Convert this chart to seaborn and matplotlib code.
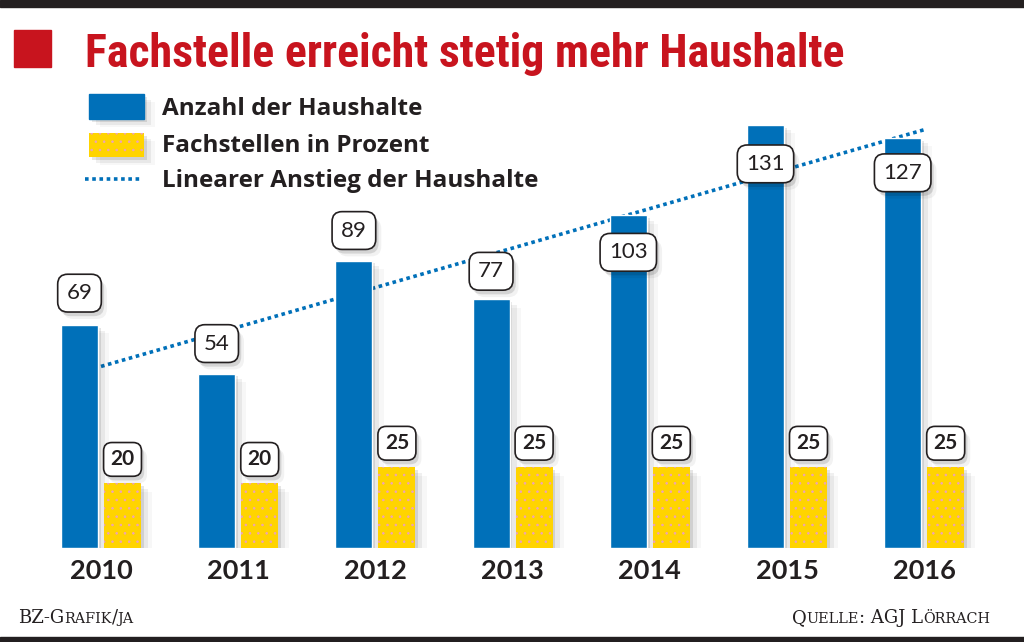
import numpy as np
import pandas as pd
import seaborn as sns
import matplotlib.pyplot as plt
from matplotlib import patheffects as pe
from matplotlib import font_manager
from matplotlib.patches import Rectangle
from matplotlib.lines import Line2D

# Data
years = ['2010', '2011', '2012', '2013', '2014', '2015', '2016']
households = [69, 54, 89, 77, 103, 131, 127]
percent = [20, 20, 25, 25, 25, 25, 25]
series_names = ['Anzahl der Haushalte', 'Fachstellen in Prozent']
trend_name = 'Linearer Anstieg der Haushalte'
title = 'Fachstelle erreicht stetig mehr Haushalte'
credit = 'BZ-Grafik/ja'
source = 'Quelle: AGJ Lörrach'

# label offsets above/below the blue bar tops (pixels), as placed in the original
blue_label_dy = [32, 30, 30, 28, -37, -39, -35]

BLUE = '#0070b9'
YELLOW = '#ffd400'
RED = '#c8141e'
DARK = '#231f20'
DOTS = '#eea3b8'
W, H = 1024, 642

df = pd.DataFrame({
    'year': years * 2,
    'value': households + percent,
    'series': [series_names[0]] * len(years) + [series_names[1]] * len(years),
})

sns.set_theme(style='white')
plt.rcParams['font.family'] = ['Lato', 'DejaVu Sans']
plt.rcParams['hatch.linewidth'] = 0.6

installed = {f.name for f in font_manager.fontManager.ttflist}
title_font = next((f for f in ['Liberation Sans Narrow', 'Roboto Condensed', 'DejaVu Sans']
                   if f in installed), 'DejaVu Sans')
legend_font = 'Open Sans' if 'Open Sans' in installed else 'Lato'


class PlainShadow(pe.AbstractPathEffect):
    # soft offset shadow without the hatch of the patch
    def __init__(self, offset=(2, -2), alpha=0.1):
        super().__init__(offset)
        self.alpha = alpha

    def draw_path(self, renderer, gc, tpath, affine, rgbFace=None):
        gc0 = renderer.new_gc()
        gc0.copy_properties(gc)
        gc0.set_hatch(None)
        gc0.set_linewidth(0)
        gc0.set_alpha(self.alpha)
        renderer.draw_path(gc0, tpath, affine + self._offset_transform(renderer), (0, 0, 0))
        gc0.restore()


shadow = [PlainShadow((2, -2), 0.10), PlainShadow((5, -4), 0.06),
          PlainShadow((8, -6), 0.03), pe.Normal()]

fig = plt.figure(figsize=(W / 100, H / 100), dpi=100)
fig.patch.set_facecolor('white')

# axes placed so that baseline sits at y=548px, 3.23 px per unit
ax = fig.add_axes([18.7 / W, (H - 548) / H, 987.8 / W, 140 * 3.23 / H])

sns.barplot(data=df, x='year', y='value', hue='series', palette=[BLUE, YELLOW],
            width=0.627, gap=0.14, saturation=1, errorbar=None, legend=False,
            ax=ax, zorder=3)
ax.set_xlim(-0.6, 6.6)
ax.set_ylim(0, 140)

blue_bars = ax.containers[0]
yellow_bars = ax.containers[1]
for bar in blue_bars:
    bar.set_path_effects(shadow)
for bar in yellow_bars:
    bar.set_hatch('..')
    bar.set_edgecolor(DOTS)
    bar.set_linewidth(0)
    bar.set_path_effects(shadow)

# linear trend of households
xs = np.arange(len(years))
coef = np.polyfit(xs, households, 1)
ends = np.array([xs[0], xs[-1]])
ax.plot(ends, np.polyval(coef, ends), color=BLUE, lw=2.6, linestyle=(0, (1, 1)),
        dash_capstyle='butt', zorder=2)

box_shadow = [PlainShadow((2, -3), 0.12), PlainShadow((4, -5), 0.05), pe.Normal()]

for bar, v, dy in zip(blue_bars, households, blue_label_dy):
    cx = bar.get_x() + bar.get_width() / 2
    t = ax.annotate(str(v), (cx, v), xytext=(0, dy), textcoords='offset pixels',
                    ha='center', va='center', fontsize=16, color=DARK, zorder=6,
                    bbox=dict(boxstyle='round,pad=0.4,rounding_size=0.45',
                              fc='white', ec=DARK, lw=1.2))
    t.get_bbox_patch().set_path_effects(box_shadow)

for bar, v in zip(yellow_bars, percent):
    cx = bar.get_x() + bar.get_width() / 2
    t = ax.annotate(str(v), (cx, v), xytext=(0, 24), textcoords='offset pixels',
                    ha='center', va='center', fontsize=15, fontweight='bold',
                    color=DARK, zorder=6,
                    bbox=dict(boxstyle='round,pad=0.33,rounding_size=0.4',
                              fc='white', ec=DARK, lw=1.2))
    t.get_bbox_patch().set_path_effects(box_shadow)

ax.set_xticks(range(len(years)))
ax.set_xticklabels(years, fontsize=19.5, fontweight='bold', color=DARK)
ax.tick_params(axis='x', length=0, pad=8)
ax.set_yticks([])
ax.set_xlabel('')
ax.set_ylabel('')
sns.despine(ax=ax, left=True, bottom=True)
ax.patch.set_alpha(0)


def fx(px):
    return px / W


def fy(py):
    return 1 - py / H


# dark bands top and bottom
fig.add_artist(Rectangle((0, fy(7)), 1, 7 / H, transform=fig.transFigure, color=DARK))
fig.add_artist(Rectangle((0, 0), 1, 5 / H, transform=fig.transFigure, color=DARK))

# title with red square
fig.add_artist(Rectangle((fx(14), fy(67)), 37 / W, 37 / H, transform=fig.transFigure, color=RED))
fig.text(fx(85), fy(67), title, fontsize=33, fontweight='bold', color=RED,
         family=title_font, va='baseline')

# legend, drawn by hand
leg_blue = Rectangle((fx(89), fy(119)), 55 / W, 25 / H, transform=fig.transFigure,
                     color=BLUE, path_effects=shadow)
leg_yellow = Rectangle((fx(89), fy(157)), 55 / W, 24 / H, transform=fig.transFigure,
                       facecolor=YELLOW, edgecolor=DOTS, lw=0, hatch='..',
                       path_effects=shadow)
fig.add_artist(leg_blue)
fig.add_artist(leg_yellow)
fig.add_artist(Line2D([fx(85), fx(141)], [fy(179), fy(179)], transform=fig.transFigure,
                      color=BLUE, lw=2.6, linestyle=(0, (1, 1)), dash_capstyle='butt'))
for label, base in zip(series_names + [trend_name], [115, 152, 187]):
    fig.text(fx(162), fy(base), label, fontsize=17.5, fontweight='bold', color=DARK,
             family=legend_font, va='baseline')


def small_caps(x, y, s, size, ha='left'):
    # lowercase letters drawn as smaller capitals
    runs = []
    for ch in s:
        small = ch.islower()
        if runs and runs[-1][1] == small:
            runs[-1][0] += ch
        else:
            runs.append([ch, small])
    r = fig.canvas.get_renderer()
    items = []
    for txt, small in runs:
        t = fig.text(0, y, txt.upper() if small else txt, fontsize=size * 0.8 if small else size,
                     family='DejaVu Serif', color=DARK, va='baseline')
        items.append((t, t.get_window_extent(r).width))
    total = sum(w for _, w in items)
    cx = x * W - (total if ha == 'right' else 0)
    for t, w in items:
        t.set_x(cx / W)
        cx += w


small_caps(fx(18), fy(623), credit, 13)
small_caps(fx(990), fy(623), source, 13, ha='right')

fig.savefig('out.png', dpi=100)
